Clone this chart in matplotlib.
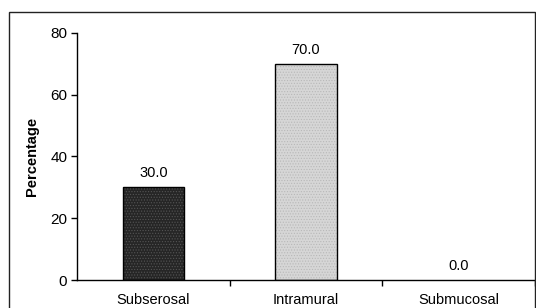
import matplotlib
matplotlib.use("Agg")
import matplotlib.pyplot as plt
from matplotlib.patches import Rectangle

categories = ["Subserosal", "Intramural", "Submucosal"]
values = [30.0, 70.0, 0.0]
yticks = [0, 20, 40, 60, 80]

plt.rcParams['font.family'] = ['Liberation Sans', 'DejaVu Sans']
plt.rcParams['hatch.linewidth'] = 0.5

fig = plt.figure(figsize=(5.36, 3.08), dpi=100)
ax = fig.add_axes([0.1437, 0.0909, 0.8543, 0.802])

# outer frame
fig.patches.append(Rectangle((8.5/536, -0.05), (535 - 8.5)/536, 1.05 - 12/308,
                             transform=fig.transFigure, fill=False,
                             edgecolor='#222222', linewidth=1.0))

x = list(range(len(categories)))
faces = ['#262626', '#d6d6d6']
hatchc = ['#555555', '#b8b8b8']
for i, v in enumerate(values):
    if v > 0:
        ax.bar(x[i], v, width=0.4, color=faces[i % 2], edgecolor=hatchc[i % 2],
               hatch='......', linewidth=0, zorder=2)
        ax.bar(x[i], v, width=0.4, fill=False, edgecolor='black',
               linewidth=1.0, zorder=3)
    ax.text(x[i], v + 2.3, f"{v:.1f}", ha='center', va='bottom', fontsize=10.5)

ax.set_xlim(-0.5, len(categories) - 0.5)
ax.set_ylim(0, 80)
ax.set_yticks(yticks)
ax.set_xticks([])
ax.set_xticks([0.5, 1.5, 2.5], minor=True)
ax.tick_params(axis='x', which='minor', length=4, width=1, direction='out')
for i, c in enumerate(categories):
    ax.text(x[i], -4.3, c, ha='center', va='top', fontsize=10.5)
ax.tick_params(axis='y', length=4, width=1, labelsize=11, pad=3)
for s in ['top', 'right']:
    ax.spines[s].set_visible(False)
for s in ['left', 'bottom']:
    ax.spines[s].set_linewidth(1.0)
ax.set_ylabel("Percentage", fontsize=10.5, fontweight='bold')
ax.yaxis.set_label_coords(-0.083, 0.5)

fig.savefig("out.png", dpi=100)
